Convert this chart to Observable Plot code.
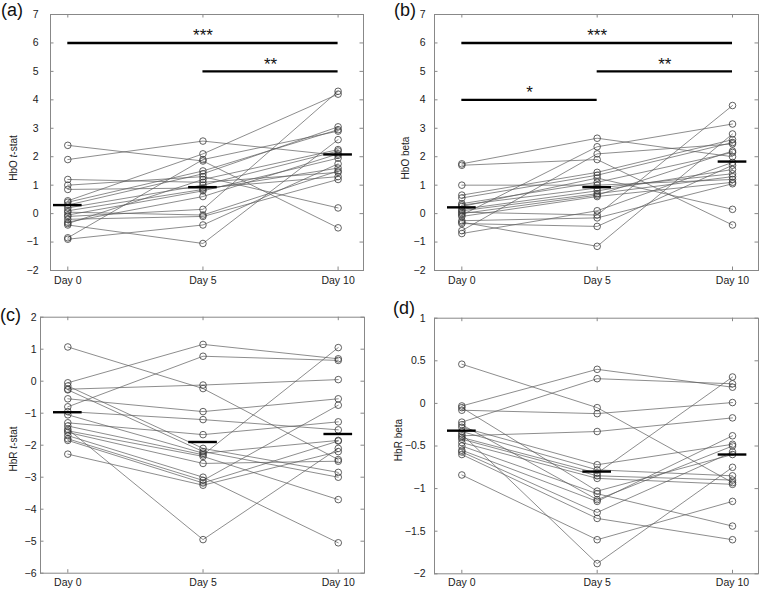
<!DOCTYPE html>
<html><head><meta charset="utf-8">
<script src="https://cdn.jsdelivr.net/npm/d3@7"></script>
<script src="https://cdn.jsdelivr.net/npm/@observablehq/plot@0.6"></script>
<style>
body{margin:0;background:#fff;font-family:"Liberation Sans",Arial,sans-serif;}
#root{position:relative;width:760px;height:590px;overflow:hidden;background:#fff}
.panel{position:absolute}
#over{position:absolute;left:0;top:0;pointer-events:none}
</style></head><body><div id="root"></div>
<script>
// ---------- shared ----------
const days = [0, 5, 10];
const dayLabels = ["Day 0", "Day 5", "Day 10"];

// ---------- (a) HbO t-stat ----------
const aDay0  = [2.4, 1.9, 1.2, 1.0, 0.85, 0.45, 0.4, 0.3, 0.2, 0.1, 0.05, -0.05, -0.1, -0.2, -0.3, -0.35, -0.4, -0.85, -0.9];
const aDay5  = [1.85, 2.55, 1.1, 1.3, 0.9, 2.1, 1.5, 1.4, 1.0, 0.85, -0.05, 0.8, 0.15, -0.1, 0.6, 1.2, -1.05, 1.9, -0.4];
const aDay10 = [-0.5, 2.05, 1.45, 0.2, 1.3, 4.2, 2.95, 3.05, 2.2, 1.6, 1.5, 1.95, 4.3, 1.2, 2.1, 2.25, 2.6, 2.9, 1.75];
const aMean  = [0.30, 0.93, 2.08];
const aSigFrom = [0, 5], aSigTo = [10, 10], aSigLevel = [6, 5], aSigLabel = ["***", "**"];
const aTicks = [-2, -1, 0, 1, 2, 3, 4, 5, 6, 7];

// ---------- (b) HbO beta ----------
const bDay0  = [1.75, 1.7, 1.0, 0.65, 0.55, 0.35, 0.3, 0.25, 0.15, 0.1, 0.05, 0.0, -0.05, -0.1, -0.25, -0.3, -0.35, -0.6, -0.7];
const bDay5  = [2.65, 1.9, 1.0, 1.45, 1.35, 1.1, 0.9, 1.25, 0.8, 0.7, -0.05, 0.65, 2.35, 0.6, -0.15, -1.15, -0.45, 2.1, 0.1];
const bDay10 = [2.0, -0.4, 1.2, 2.6, 2.5, 2.15, 1.4, 0.15, 1.55, 1.3, 3.8, 2.2, 3.15, 1.1, 1.05, 2.8, 1.7, 2.45, 1.8];
const bMean  = [0.22, 0.93, 1.83];
const bSigFrom = [0, 5, 0], bSigTo = [10, 10, 5], bSigLevel = [6, 5, 4], bSigLabel = ["***", "**", "*"];
const bTicks = [-2, -1, 0, 1, 2, 3, 4, 5, 6, 7];

// ---------- (c) HbR t-stat ----------
const cDay0  = [1.07, -0.05, -0.15, -0.25, -0.27, -0.55, -0.8, -0.95, -1.05, -1.3, -1.4, -1.5, -1.55, -1.6, -1.7, -1.8, -1.85, -2.28];
const cDay5  = [-0.23, 1.15, -2.1, -0.12, -2.2, -0.95, 0.78, -1.2, -2.25, -1.67, -2.3, -4.95, -2.35, -2.57, -3.0, -3.1, -3.18, -3.25];
const cDay10 = [-2.45, 0.7, -2.85, 0.05, -3.0, -0.55, 0.65, -1.52, -1.85, -1.27, 1.05, -2.1, -3.7, -2.5, -5.05, -0.75, -1.87, -2.2];
const cMean  = [-0.97, -1.9, -1.65];
const cTicks = [-6, -5, -4, -3, -2, -1, 0, 1, 2];

// ---------- (d) HbR beta ----------
const dDay0  = [0.46, -0.03, -0.05, -0.08, -0.22, -0.25, -0.28, -0.33, -0.36, -0.38, -0.4, -0.42, -0.46, -0.5, -0.55, -0.57, -0.6, -0.84];
const dDay5  = [-0.05, 0.4, -1.03, -0.12, 0.29, -1.13, -0.72, -0.78, -1.88, -0.33, -0.82, -0.85, -0.88, -1.06, -1.15, -1.28, -1.35, -1.6];
const dDay10 = [-0.93, 0.19, -0.6, 0.01, 0.23, -0.5, -0.48, -0.85, -0.75, -0.17, 0.31, -0.9, -0.95, -1.44, -0.38, -0.57, -1.6, -1.15];
const dMean  = [-0.32, -0.8, -0.6];
const dTicks = [-2, -1.5, -1, -0.5, 0, 0.5, 1];

const fmtTick = d => (d < 0 ? "\u2212" : "") + String(Math.abs(d));

function panel(cfg) {
  const {left, top, width, height, mL, mR, mT, mB, xDomain, yDomain, yTicks, series, mean, sig, yPad, xPad} = cfg;
  const rows = [];
  days.forEach((day, j) => series[j].forEach((v, i) => rows.push({s: i, day, v})));
  rows.sort((p, q) => p.s - q.s || p.day - q.day);
  const meanRows = days.map((day, j) => ({day, m: mean[j]}));
  const sigRows = sig ? sig.from.map((f, k) => ({from: f, to: sig.to[k], y: sig.level[k], label: sig.label[k]})) : [];
  const fw = width - mL - mR, fh = height - mT - mB;
  const tk = 3.5;
  const plot = Plot.plot({
    width, height, marginLeft: mL, marginRight: mR, marginTop: mT, marginBottom: mB,
    x: {domain: xDomain}, y: {domain: yDomain},
    style: {fontFamily: "'Liberation Sans', Arial, sans-serif", fontSize: "10px", color: "#222", background: "transparent", overflow: "visible"},
    marks: [
      Plot.line(rows, {x: "day", y: "v", z: "s", stroke: "#5c5c5c", strokeWidth: 0.7}),
      Plot.dot(rows, {x: "day", y: "v", r: 3.3, stroke: "#3a3a3a", strokeWidth: 0.8, fill: "none"}),
      Plot.ruleY(meanRows, {y: "m", x1: d => d.day - 0.53, x2: d => d.day + 0.53, stroke: "#000", strokeWidth: 2.4}),
      Plot.ruleY(sigRows, {y: "y", x1: "from", x2: "to", stroke: "#000", strokeWidth: 2.4}),
      Plot.text(sigRows, {x: d => (d.from + d.to) / 2, y: "y", text: "label", dy: -7, fontSize: 17, fill: "#111"}),
      Plot.tickY(yTicks, {y: d => d, insetRight: fw - tk, stroke: "#888"}),
      Plot.tickY(yTicks, {y: d => d, insetLeft: fw - tk, stroke: "#888"}),
      Plot.tickX(days, {x: d => d, insetTop: fh - tk, stroke: "#888"}),
      Plot.tickX(days, {x: d => d, insetBottom: fh - tk, stroke: "#888"}),
      Plot.axisY({ticks: yTicks, tickSize: 0, tickPadding: yPad, label: null, fontSize: 10.5, tickFormat: fmtTick}),
      Plot.axisX({ticks: days, tickSize: 0, tickPadding: xPad, label: null, fontSize: 10.5,
                  tickFormat: d => dayLabels[days.indexOf(d)]}),
      Plot.frame({stroke: "#888"})
    ]
  });
  plot.classList.add("panel");
  plot.style.left = left + "px";
  plot.style.top = top + "px";
  document.getElementById("root").appendChild(plot);
}

panel({left: 0, top: 0, width: 380, height: 290, mL: 50, mR: 17, mT: 14, mB: 20,
  xDomain: [-0.64, 10.94], yDomain: [-2, 7], yTicks: aTicks, series: [aDay0, aDay5, aDay10], mean: aMean,
  sig: {from: aSigFrom, to: aSigTo, level: aSigLevel, label: aSigLabel}, yPad: 12, xPad: 6});
panel({left: 380, top: 0, width: 380, height: 290, mL: 54, mR: 2, mT: 14, mB: 20,
  xDomain: [-1.01, 10.96], yDomain: [-2, 7], yTicks: bTicks, series: [bDay0, bDay5, bDay10], mean: bMean,
  sig: {from: bSigFrom, to: bSigTo, level: bSigLevel, label: bSigLabel}, yPad: 9, xPad: 6});
panel({left: 0, top: 290, width: 380, height: 300, mL: 40, mR: 16, mT: 26.7, mB: 17.3,
  xDomain: [-1.01, 10.97], yDomain: [-6, 2], yTicks: cTicks, series: [cDay0, cDay5, cDay10], mean: cMean,
  sig: null, yPad: 4, xPad: 5});
panel({left: 380, top: 290, width: 380, height: 300, mL: 54, mR: 2, mT: 27.7, mB: 16.7,
  xDomain: [-1.01, 10.96], yDomain: [-2, 1], yTicks: dTicks, series: [dDay0, dDay5, dDay10], mean: dMean,
  sig: null, yPad: 9, xPad: 5});

// ---------- overlay labels ----------
const ns = "http://www.w3.org/2000/svg";
const over = document.createElementNS(ns, "svg");
over.setAttribute("id", "over");
over.setAttribute("width", 760); over.setAttribute("height", 590);
over.style.fontFamily = "'Liberation Sans', Arial, sans-serif";
document.getElementById("root").appendChild(over);
const panelLabels = ["(a)", "(b)", "(c)", "(d)"];
const panelLabelPos = [[1, 16], [394, 16], [0, 321], [393, 314]];
panelLabels.forEach((t, i) => {
  const e = document.createElementNS(ns, "text");
  e.setAttribute("x", panelLabelPos[i][0]); e.setAttribute("y", panelLabelPos[i][1]);
  e.setAttribute("font-size", 18); e.setAttribute("fill", "#111");
  e.textContent = t; over.appendChild(e);
});
const yLabels = [["HbO ", "t", "-stat"], ["HbO beta"], ["HbR ", "t", "-stat"], ["HbR beta"]];
const yLabelPos = [[13, 158], [405, 158], [13, 449], [398, 440]];
yLabels.forEach((parts, i) => {
  const [x, y] = yLabelPos[i];
  const e = document.createElementNS(ns, "text");
  e.setAttribute("transform", `translate(${x},${y}) rotate(-90)`);
  e.setAttribute("text-anchor", "middle"); e.setAttribute("dominant-baseline", "central");
  e.setAttribute("font-size", 10); e.setAttribute("fill", "#222");
  parts.forEach((p, k) => {
    const s = document.createElementNS(ns, "tspan");
    if (parts.length === 3 && k === 1) s.setAttribute("font-style", "italic");
    s.textContent = p; e.appendChild(s);
  });
  over.appendChild(e);
});
</script>
</body></html>
